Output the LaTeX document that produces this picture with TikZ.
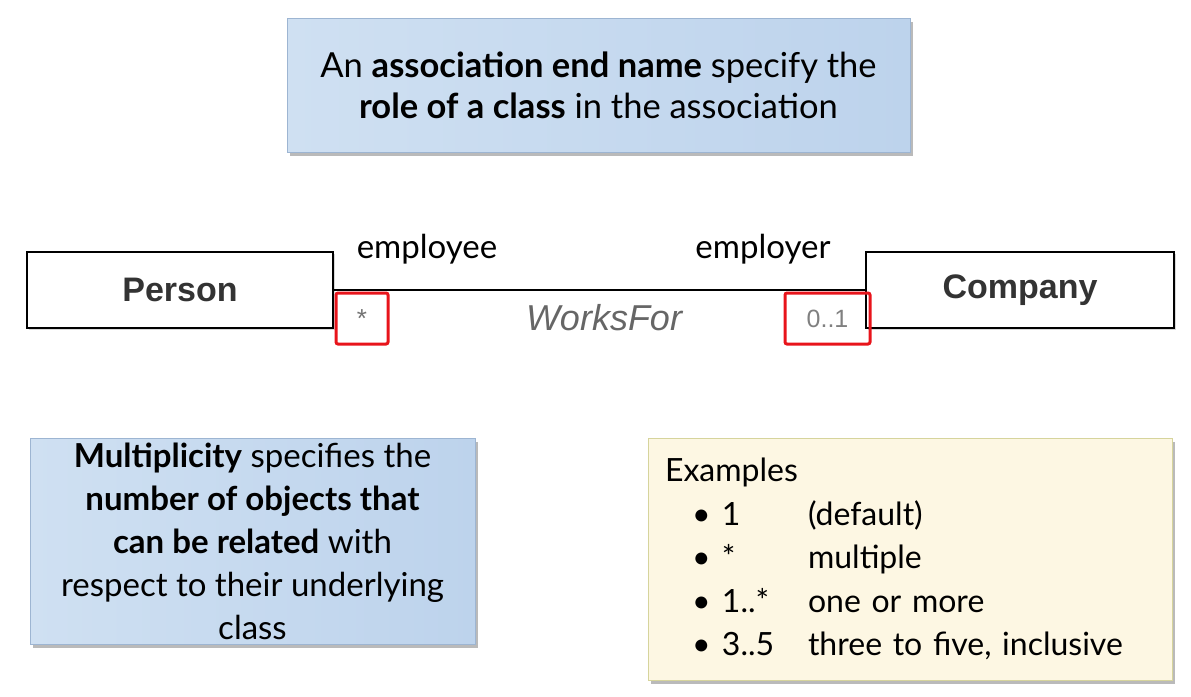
\documentclass[tikz,border=0pt]{standalone}
\usepackage{fontspec}
\setmainfont{Lato}
\newfontfamily\umlfont{Liberation Sans}
\usetikzlibrary{shadows}
\definecolor{noteblueL}{HTML}{CFE0F2}
\definecolor{noteblueR}{HTML}{BDD3EC}
\definecolor{noteedge}{HTML}{9DB5D2}
\definecolor{noteyellow}{HTML}{FDF7E3}
\definecolor{yellowedge}{HTML}{D6D49C}
\definecolor{multred}{HTML}{E8141B}
\tikzset{
  infobox/.style={draw=noteedge, line width=0.8pt, left color=noteblueL, right color=noteblueR,
    drop shadow={shadow xshift=3pt, shadow yshift=-4pt, fill=black!45, opacity=.6},
    align=center, font=\fontsize{34.5}{41}\selectfont},
  classbox/.style={draw=black, line width=2.2pt, fill=white,
    drop shadow={shadow xshift=1.5pt, shadow yshift=-1.5pt, fill=black!30, opacity=.5},
    font=\umlfont\bfseries\fontsize{34}{36}\selectfont, text=black!80},
  multbox/.style={draw=multred, line width=3pt, rounded corners=2pt},
  rolename/.style={font=\fontsize{33}{36}\selectfont},
}
\begin{document}
\begin{tikzpicture}[x=1pt,y=-1pt]
  \useasboundingbox (0,0) rectangle (1191,696);
  % top note
  \node[infobox, minimum width=623pt, minimum height=134pt] (endname) at (598.5,85)
    {An \textbf{association end name} specify the\\ \textbf{role of a class} in the association};
  % classes
  \node[classbox, minimum width=306pt, minimum height=76pt] (person) at (180,290) {Person};
  \node[classbox, minimum width=308pt, minimum height=76pt] (company) at (1020,290) {Company};
  \draw[line width=2pt] (person.east) -- (company.west);
  \node[rolename] (employee) at (427,249) {employee};
  \node[rolename] (employer) at (763,249) {employer};
  \node[font=\umlfont\itshape\fontsize{36}{38}\selectfont, text=black!60] (worksfor) at (604,318) {WorksFor};
  % multiplicities
  \node[multbox, minimum width=52pt, minimum height=51pt] (multL) at (362,318.5) {};
  \node[multbox, minimum width=85pt, minimum height=51pt] (multR) at (827.5,318.5) {};
  \node[font=\umlfont\fontsize{26}{28}\selectfont, text=black!55] (starL) at (multL.center) {*};
  \node[font=\umlfont\fontsize{25}{28}\selectfont, text=black!50] (oneR) at (multR.center) {0..1};
  % bottom notes
  \node[infobox, minimum width=445pt, minimum height=206pt,
    font=\fontsize{33}{43}\selectfont] (mult) at (252.5,541)
    {\textbf{Multiplicity} specifies the\\ \textbf{number of objects that}\\ \textbf{can be related} with\\
     respect to their underlying\\ class};
  \node[draw=yellowedge, line width=1pt, fill=noteyellow,
    drop shadow={shadow xshift=3pt, shadow yshift=-4pt, fill=black!45, opacity=.6},
    minimum width=524pt, minimum height=242pt, text width=490pt, inner xsep=17pt,
    align=left, font=\fontsize{32}{43.5}\selectfont] (examples) at (910,559)
    {Examples\\
     \hspace*{27pt}\makebox[30pt][l]{\textbullet}\makebox[86pt][l]{1}(default)\\
     \hspace*{27pt}\makebox[30pt][l]{\textbullet}\makebox[86pt][l]{*}multiple\\
     \hspace*{27pt}\makebox[30pt][l]{\textbullet}\makebox[86pt][l]{1..*}one or more\\
     \hspace*{27pt}\makebox[30pt][l]{\textbullet}\makebox[86pt][l]{3..5}three to five, inclusive};
\end{tikzpicture}
\end{document}
